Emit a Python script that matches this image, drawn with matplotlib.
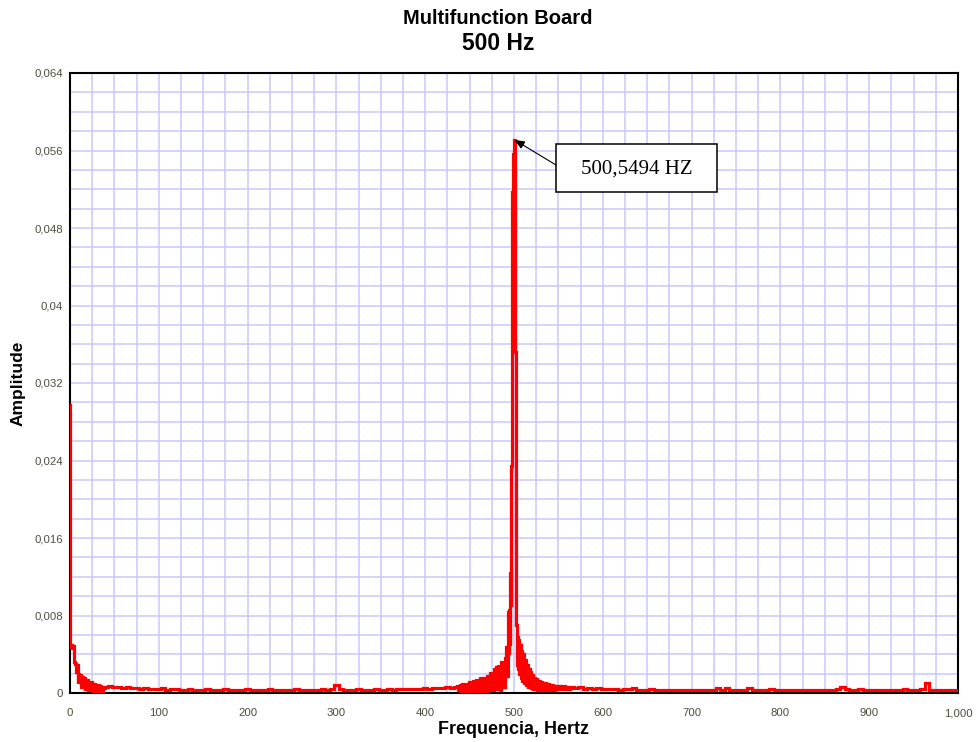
import numpy as np
import matplotlib
matplotlib.use("Agg")
import matplotlib.pyplot as plt
from matplotlib.patches import Rectangle

# ---------------- data ----------------
# low-frequency region, 0..40 Hz, 1 Hz step
low_freq = list(range(0, 41))
low_amp = [0.0297, 0.0048, 0.0050, 0.0046, 0.0049, 0.0032, 0.0030, 0.0022, 0.0029, 0.0010,
           0.0020, 0.0016, 0.0019, 0.0006, 0.0017, 0.0013, 0.0015, 0.0004, 0.0012, 0.0010,
           0.0013, 0.0003, 0.0010, 0.0009, 0.0011, 0.0002, 0.0009, 0.0008, 0.0009, 0.0002,
           0.0008, 0.0007, 0.0008, 0.0002, 0.0007, 0.0006, 0.0007, 0.0002, 0.0006, 0.0005,
           0.0006]

# noise floor 45..435 Hz, 5 Hz step
floor1_freq = list(range(45, 436, 5))
floor1_amp = [0.0007, 0.0006, 0.0006, 0.0005, 0.0006, 0.0005, 0.0005, 0.0004, 0.0005, 0.0004,
              0.0004, 0.0004, 0.0005, 0.0003, 0.0004, 0.0004, 0.0003, 0.0003, 0.0004, 0.0003,
              0.0003, 0.0003, 0.0004, 0.0003, 0.0003, 0.0003, 0.0004, 0.0003, 0.0003, 0.0003,
              0.0003, 0.0004, 0.0003, 0.0003, 0.0003, 0.0003, 0.0004, 0.0003, 0.0003, 0.0003,
              0.0003, 0.0003, 0.0004, 0.0003, 0.0003, 0.0003, 0.0003, 0.0003, 0.0004, 0.0003,
              0.0004, 0.0008, 0.0004, 0.0003, 0.0003, 0.0003, 0.0004, 0.0003, 0.0003, 0.0003,
              0.0004, 0.0003, 0.0003, 0.0004, 0.0003, 0.0004, 0.0004, 0.0004, 0.0004, 0.0004,
              0.0004, 0.0005, 0.0004, 0.0005, 0.0005, 0.0005, 0.0006, 0.0005, 0.0006]

# rising skirt left of the peak, 436..491 Hz, 1 Hz step
left_freq = list(range(436, 492))
left_amp = [0.0007, 0.0003, 0.0008, 0.0004, 0.0008, 0.0002, 0.0009, 0.0005, 0.0008, 0.0002,
            0.0010, 0.0006, 0.0009, 0.0002, 0.0011, 0.0006, 0.0010, 0.0001, 0.0012, 0.0007,
            0.0011, 0.0002, 0.0013, 0.0008, 0.0012, 0.0001, 0.0015, 0.0009, 0.0014, 0.0002,
            0.0016, 0.0010, 0.0015, 0.0002, 0.0018, 0.0011, 0.0017, 0.0002, 0.0021, 0.0013,
            0.0020, 0.0003, 0.0025, 0.0015, 0.0027, 0.0004, 0.0029, 0.0018, 0.0027, 0.0003,
            0.0032, 0.0022, 0.0030, 0.0006, 0.0036, 0.0024]

# peak core, 492..505 Hz, 0.5 Hz step
core_freq = [492.0, 492.5, 493.0, 493.5, 494.0, 494.5, 495.0, 495.5, 496.0, 496.5,
             497.0, 497.5, 498.0, 498.5, 499.0, 499.5, 500.0, 500.5, 501.0, 501.5,
             502.0, 502.5, 503.0, 503.5, 504.0, 504.5, 505.0]
core_amp = [0.0048, 0.0018, 0.0055, 0.0028, 0.0084, 0.0040, 0.0086, 0.0050, 0.0124, 0.0090,
            0.0234, 0.0234, 0.0517, 0.0517, 0.0540, 0.0556, 0.0566, 0.0571, 0.0460, 0.0352,
            0.0352, 0.0072, 0.0070, 0.0028, 0.0058, 0.0024, 0.0055]

# falling skirt right of the peak, 506..564 Hz, 1 Hz step
right_freq = list(range(506, 565))
right_amp = [0.0020, 0.0050, 0.0016, 0.0044, 0.0012, 0.0040, 0.0010, 0.0034, 0.0008, 0.0029,
             0.0006, 0.0025, 0.0005, 0.0022, 0.0005, 0.0019, 0.0004, 0.0016, 0.0004, 0.0014,
             0.0003, 0.0013, 0.0003, 0.0012, 0.0003, 0.0011, 0.0003, 0.0010, 0.0003, 0.0010,
             0.0003, 0.0009, 0.0003, 0.0009, 0.0004, 0.0008, 0.0003, 0.0008, 0.0004, 0.0008,
             0.0003, 0.0007, 0.0004, 0.0007, 0.0004, 0.0007, 0.0004, 0.0007, 0.0004, 0.0006,
             0.0004, 0.0007, 0.0004, 0.0006, 0.0005, 0.0006, 0.0004, 0.0007, 0.0005]

# noise floor 565..1000 Hz, 5 Hz step
floor2_freq = list(range(565, 1001, 5))
floor2_amp = [0.0006, 0.0005, 0.0006, 0.0004, 0.0005, 0.0004, 0.0005, 0.0004, 0.0004, 0.0004,
              0.0004, 0.0003, 0.0004, 0.0004, 0.0005, 0.0003, 0.0003, 0.0003, 0.0004, 0.0003,
              0.0003, 0.0003, 0.0003, 0.0003, 0.0003, 0.0003, 0.0003, 0.0003, 0.0003, 0.0003,
              0.0003, 0.0003, 0.0003, 0.0005, 0.0003, 0.0005, 0.0003, 0.0003, 0.0003, 0.0003,
              0.0005, 0.0003, 0.0003, 0.0003, 0.0003, 0.0004, 0.0003, 0.0003, 0.0003, 0.0003,
              0.0003, 0.0003, 0.0003, 0.0003, 0.0003, 0.0003, 0.0003, 0.0003, 0.0003, 0.0003,
              0.0004, 0.0006, 0.0004, 0.0003, 0.0003, 0.0004, 0.0003, 0.0003, 0.0003, 0.0003,
              0.0003, 0.0003, 0.0003, 0.0003, 0.0003, 0.0004, 0.0003, 0.0003, 0.0003, 0.0004,
              0.0010, 0.0003, 0.0003, 0.0003, 0.0003, 0.0003, 0.0003, 0.0003]

peak_freq = 500.5494
peak_amp = 0.0571
peak_label = "500,5494 HZ"

x_ticks = [0, 100, 200, 300, 400, 500, 600, 700, 800, 900, 1000]
x_tick_labels = ["0", "100", "200", "300", "400", "500", "600", "700", "800", "900", "1,000"]
y_ticks = [0, 0.008, 0.016, 0.024, 0.032, 0.040, 0.048, 0.056, 0.064]
y_tick_labels = ["0", "0,008", "0,016", "0,024", "0,032", "0,04", "0,048", "0,056", "0,064"]

title_line1 = "Multifunction Board"
title_line2 = "500 Hz"
x_label = "Frequencia, Hertz"
y_label = "Amplitude"

# ---------------- assemble ----------------
freq = np.concatenate([low_freq, floor1_freq, left_freq, core_freq, right_freq, floor2_freq]).astype(float)
amp = np.concatenate([low_amp, floor1_amp, left_amp, core_amp, right_amp, floor2_amp]).astype(float)

# ---------------- figure ----------------
W, H = 977, 742
fig = plt.figure(figsize=(W / 100, H / 100), dpi=100, facecolor="white")
ax = fig.add_axes([70 / W, 1 - 693 / H, (958 - 70) / W, (693 - 73) / H])
ax.set_facecolor("white")

ax.set_xlim(0, 1000)
ax.set_ylim(0, 0.064)

ax.set_xticks(x_ticks)
ax.set_xticklabels(x_tick_labels)
ax.set_yticks(y_ticks)
ax.set_yticklabels(y_tick_labels)
ax.set_xticks(np.arange(0, 1001, 25), minor=True)
ax.set_yticks(np.arange(0, 0.0641, 0.002), minor=True)

ax.grid(True, which="both", color="#c8c8ff", linewidth=1.1)
ax.set_axisbelow(True)
ax.tick_params(which="both", length=0)
ax.tick_params(axis="x", pad=11, labelsize=8.2, labelcolor="#4d4d3d")
ax.tick_params(axis="y", pad=5, labelsize=8.2, labelcolor="#4d4d3d")
for lab in ax.get_xticklabels() + ax.get_yticklabels():
    lab.set_family("Liberation Sans")

for s in ax.spines.values():
    s.set_color("black")
    s.set_linewidth(1.5)
    s.set_zorder(4)

ax.plot(freq, amp, color="#ff0000", linewidth=2.3, drawstyle="steps-mid",
        solid_joinstyle="miter", zorder=4.5)

# annotation box
box_x0, box_x1 = 547.3, 728.2
box_y0, box_y1 = 0.05175, 0.05667
ax.add_patch(Rectangle((box_x0, box_y0), box_x1 - box_x0, box_y1 - box_y0,
                       facecolor="white", edgecolor="black", linewidth=1.1, zorder=6))
ax.text((box_x0 + box_x1) / 2, (box_y0 + box_y1) / 2 - 0.0001, peak_label,
        ha="center", va="center", fontsize=15, family="Liberation Serif", zorder=7)
ax.annotate("", xy=(peak_freq, peak_amp), xytext=(box_x0, 0.0545),
            arrowprops=dict(arrowstyle="-|>,head_length=0.6,head_width=0.25",
                            color="black", linewidth=0.8, shrinkA=0, shrinkB=0),
            zorder=7)

# titles and labels
fig.text(498 / W, 1 - 19 / H, title_line1, ha="center", va="center",
         fontsize=14.5, fontweight="bold", family="Liberation Sans")
fig.text(498 / W, 1 - 43 / H, title_line2, ha="center", va="center",
         fontsize=16.5, fontweight="bold", family="Liberation Sans")
fig.text(513 / W, 1 - 729 / H, x_label, ha="center", va="center",
         fontsize=12.9, fontweight="bold", family="Liberation Sans")
fig.text(18 / W, 1 - 383 / H, y_label, ha="center", va="center", rotation=90,
         fontsize=12.5, fontweight="bold", family="Liberation Sans")

fig.savefig("out.png", dpi=100, facecolor="white")
